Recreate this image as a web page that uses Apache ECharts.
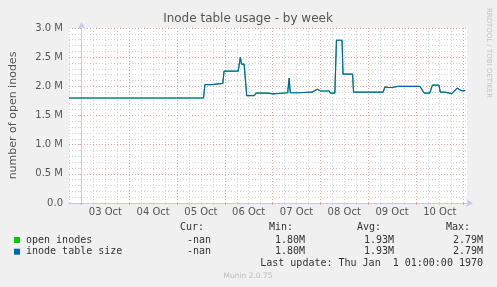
<!DOCTYPE html>
<html>
<head>
<meta charset="utf-8">
<script src="https://cdn.jsdelivr.net/npm/echarts@6/dist/echarts.min.js"></script>
<style>
html,body{margin:0;padding:0;background:#f0f0f0;}
#c{width:497px;height:287px;}
</style>
</head>
<body>
<div id="c"></div>
<script>
// Hours relative to 03 Oct 00:00
const hours = [-6.3, 6.5, 7.0, 7.5, 47.8, 48.3, 48.8, 55.2, 55.7, 56.2, 61.3, 62.0, 65.6, 66.1, 71.0, 71.6,
  78.7, 79.8, 80.4, 81.7, 83.0, 86.8, 87.7, 93.7, 94.2, 96.2, 96.7, 103.6, 104.3, 104.9, 109.1, 110.1,
  115.6, 116.1, 118.5, 120.1, 124.5, 125.0, 127.3, 128.1, 130.9, 131.4, 136.2, 136.7, 151.5, 152.5,
  154.0, 156.0, 156.6, 159.0, 170.0, 170.9, 172.2, 175.0, 176.3, 179.6, 180.3, 182.5, 183.5, 186.0,
  186.9, 188.8, 190.8, 192.8];
// values in millions of inodes
const inodeTableSize = [1.80, 1.80, 1.81, 1.80, 1.80, 1.81, 1.80, 1.80, 1.81, 1.80, 1.80, 2.03, 2.03, 2.05, 2.05, 2.26,
  2.26, 2.50, 2.38, 2.38, 1.84, 1.84, 1.885, 1.885, 1.87, 1.87, 1.885, 1.89, 2.14, 1.89, 1.89, 1.91,
  1.90, 1.87, 1.95, 1.92, 1.92, 1.885, 1.885, 2.79, 2.79, 2.21, 2.21, 1.90, 1.90, 1.99,
  1.98, 1.98, 1.99, 2.00, 2.00, 2.02, 1.885, 1.885, 2.02, 2.02, 1.90, 1.90, 1.875, 1.875,
  1.90, 1.97, 1.925, 1.925];
const openInodes = inodeTableSize.slice();
const dayLabels = ["03 Oct", "04 Oct", "05 Oct", "06 Oct", "07 Oct", "08 Oct", "09 Oct", "10 Oct"];
const yTickLabels = ["0.0", "0.5 M", "1.0 M", "1.5 M", "2.0 M", "2.5 M", "3.0 M"];
const legendNames = ["open inodes", "inode table size"];
const legendColors = ["#00cc00", "#0066b3"];
const statCur = ["-nan", "-nan"];
const statMin = ["1.80M", "1.80M"];
const statAvg = ["1.93M", "1.93M"];
const statMax = ["2.79M", "2.79M"];

const xMin = -6.3, xMax = 193.7;
const sixHour = []; for (let h = -6; h <= xMax; h += 6) sixHour.push(h);
const dayTicks = []; for (let h = 0; h <= xMax; h += 24) dayTicks.push(h);
const noonTicks = dayLabels.map((d, i) => 12 + 24 * i);

const toPairs = arr => hours.map((h, i) => [h, arr[i] * 1e6]);

const chart = echarts.init(document.getElementById('c'), null, {renderer: 'canvas'});
const axisCol = '#c6cbee';
const minorCol = '#d4d4d4';
const majorCol = '#e8a4a4';
const txtCol = '#555';
const mono = '"DejaVu Sans Mono", monospace';

const textItems = [];
function txt(text, x, y, opts) {
  textItems.push(Object.assign({
    type: 'text', x: x, y: y, silent: true,
    style: Object.assign({text: text, font: '10px ' + mono, fill: '#333', align: 'left', verticalAlign: 'middle'}, opts || {})
  }));
}
txt('Inode table usage - by week', 248, 19, {font: '12px "DejaVu Sans"', fill: txtCol, align: 'center'});
txt('Cur:', 204, 227, {align: 'right'});
txt('Min:', 293, 227, {align: 'right'});
txt('Avg:', 381, 227, {align: 'right'});
txt('Max:', 470, 227, {align: 'right'});
legendNames.forEach((n, i) => {
  const y = 240 + i * 11.7;
  textItems.push({type: 'rect', silent: true, shape: {x: 14, y: y - 3, width: 6, height: 6}, style: {fill: legendColors[i]}});
  txt(n, 26, y);
  txt(statCur[i], 211, y, {align: 'right'});
  txt(statMin[i], 305, y, {align: 'right'});
  txt(statAvg[i], 394, y, {align: 'right'});
  txt(statMax[i], 483, y, {align: 'right'});
});
txt('Last update: Thu Jan  1 01:00:00 1970', 483, 263, {align: 'right'});
txt('Munin 2.0.75', 248, 276, {font: '7.5px "DejaVu Sans"', fill: '#bbb', align: 'center'});
textItems.push({type: 'text', x: 489, y: 53, rotation: -Math.PI / 2, silent: true,
  style: {text: 'RRDTOOL / TOBI OETIKER', font: '7px "DejaVu Sans"', fill: '#c4c4c4', align: 'center', verticalAlign: 'middle'}});

chart.setOption({
  animation: false,
  backgroundColor: '#f0f0f0',
  grid: {left: 67, top: 28, width: 400, height: 175, show: true, backgroundColor: '#ffffff', borderWidth: 0},
  xAxis: [
    {type: 'value', min: xMin, max: xMax, position: 'bottom',
      axisLine: {show: true, lineStyle: {color: axisCol}, symbol: ['none', 'arrow'], symbolSize: [6, 7], symbolOffset: [0, 6]},
      axisTick: {show: true, customValues: sixHour, length: 2, lineStyle: {color: minorCol}},
      axisLabel: {show: false},
      splitLine: {show: true, lineStyle: {color: minorCol, type: [1, 2]}}},
    {type: 'value', min: xMin, max: xMax, position: 'bottom',
      axisLine: {show: false},
      axisTick: {show: true, customValues: dayTicks, length: 2, lineStyle: {color: majorCol}},
      axisLabel: {show: true, customValues: noonTicks, margin: 4, color: txtCol, fontSize: 10, fontFamily: 'DejaVu Sans',
        formatter: v => dayLabels[Math.round((v - 12) / 24)]},
      splitLine: {show: true, lineStyle: {color: majorCol, type: [1, 2]}}}
  ],
  yAxis: [
    {type: 'value', min: 0, max: 3e6, interval: 1e5, position: 'left',
      axisLine: {show: true, lineStyle: {color: axisCol}, symbol: ['none', 'arrow'], symbolSize: [6, 7], symbolOffset: [0, 6]},
      axisTick: {show: true, length: 2, lineStyle: {color: minorCol}},
      axisLabel: {show: false},
      splitLine: {show: true, lineStyle: {color: minorCol, type: [1, 2]}},
      name: 'number of open inodes', nameLocation: 'middle', nameRotate: 90, nameGap: 50,
      nameTextStyle: {color: txtCol, fontSize: 11, fontFamily: 'DejaVu Sans'}},
    {type: 'value', min: 0, max: 3e6, interval: 5e5, position: 'left',
      axisLine: {show: false},
      axisTick: {show: true, length: 2, lineStyle: {color: majorCol}},
      axisLabel: {show: true, margin: 6, color: txtCol, fontSize: 10, fontFamily: 'DejaVu Sans',
        formatter: v => yTickLabels[Math.round(v / 5e5)]},
      splitLine: {show: true, lineStyle: {color: majorCol, type: [1, 2]}}}
  ],
  series: [
    {name: legendNames[0], type: 'line', xAxisIndex: 0, yAxisIndex: 0, data: toPairs(openInodes), showSymbol: false,
      lineStyle: {color: legendColors[0], width: 1}, z: 3},
    {name: legendNames[1], type: 'line', xAxisIndex: 0, yAxisIndex: 0, data: toPairs(inodeTableSize), showSymbol: false,
      lineStyle: {color: legendColors[1], width: 1.2}, z: 4}
  ],
  graphic: textItems
});
</script>
</body>
</html>
